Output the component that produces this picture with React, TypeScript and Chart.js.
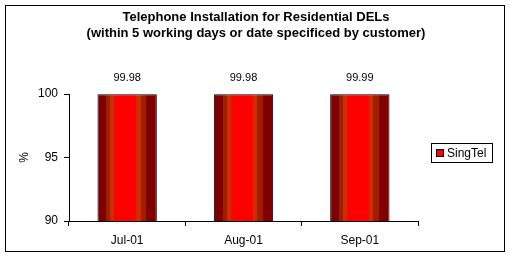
import React, { useEffect, useRef } from "react";
import { Chart, registerables } from "chart.js";

Chart.register(...registerables);

const categories: string[] = ["Jul-01", "Aug-01", "Sep-01"];
const singtelValues: number[] = [99.98, 99.98, 99.99];
const seriesName = "SingTel";
const titleLines: string[] = [
  "Telephone Installation for Residential DELs",
  "(within 5 working days or date specificed by customer)",
];
const yMin = 90;
const yMax = 100;
const yStep = 5;

const FONT = 'Arial, "Liberation Sans", sans-serif';
const BAR_PCT = 0.51;

const frameAndText = {
  id: "frameAndText",
  beforeDraw(chart: any) {
    const ctx = chart.ctx;
    ctx.save();
    ctx.fillStyle = "#ffffff";
    ctx.fillRect(0, 0, chart.width, chart.height);
    ctx.strokeStyle = "#000000";
    ctx.lineWidth = 1;
    ctx.strokeRect(5.5, 5.5, 499, 246);
    ctx.restore();
  },
  afterDraw(chart: any) {
    const ctx = chart.ctx;
    ctx.save();
    // title
    ctx.fillStyle = "#000";
    ctx.font = `bold 13px ${FONT}`;
    ctx.textAlign = "center";
    ctx.textBaseline = "middle";
    titleLines.forEach((t, i) => ctx.fillText(t, 256, 17.5 + i * 16));
    // legend
    ctx.strokeStyle = "#000";
    ctx.lineWidth = 1;
    ctx.strokeRect(431.5, 143.5, 61, 19);
    ctx.fillStyle = "#ff0000";
    ctx.fillRect(436.5, 149.5, 7, 7);
    ctx.strokeRect(436.5, 149.5, 7, 7);
    ctx.fillStyle = "#000";
    ctx.font = `12px ${FONT}`;
    ctx.textAlign = "left";
    ctx.fillText(chart.data.datasets[0].label, 447, 153.5);
    ctx.restore();
  },
  afterDatasetsDraw(chart: any) {
    const ctx = chart.ctx;
    const meta = chart.getDatasetMeta(0);
    ctx.save();
    ctx.fillStyle = "#000";
    ctx.font = `11px ${FONT}`;
    ctx.textAlign = "center";
    ctx.textBaseline = "middle";
    meta.data.forEach((bar: any, i: number) => {
      const v = chart.data.datasets[0].data[i] as number;
      ctx.fillText(v.toFixed(2), bar.x, bar.y - 16);
    });
    ctx.restore();
  },
};

function barGradient(c: any) {
  const chart = c.chart;
  const area = chart.chartArea;
  if (!area || c.dataIndex === undefined) return "#ff0000";
  const xs = chart.scales.x;
  const cx = xs.getPixelForValue(c.dataIndex);
  const w = ((area.right - area.left) / categories.length) * BAR_PCT;
  const g = chart.ctx.createLinearGradient(cx - w / 2, 0, cx + w / 2, 0);
  const bands: [number, number, string][] = [
    [0, 0.15, "#800000"],
    [0.15, 0.215, "#a01e00"],
    [0.215, 0.285, "#cc2e00"],
    [0.285, 0.655, "#ff0000"],
    [0.655, 0.725, "#cc2e00"],
    [0.725, 0.825, "#a01e00"],
    [0.825, 1, "#800000"],
  ];
  bands.forEach(([a, b, col]) => {
    g.addColorStop(a, col);
    g.addColorStop(b, col);
  });
  return g;
}

export default function App() {
  const ref = useRef<HTMLCanvasElement>(null);
  useEffect(() => {
    if (!ref.current) return;
    const chart = new Chart(ref.current, {
      type: "bar",
      data: {
        labels: categories,
        datasets: [
          {
            label: seriesName,
            data: singtelValues,
            backgroundColor: barGradient as any,
            borderColor: "#000000",
            borderWidth: 1,
            categoryPercentage: 1,
            barPercentage: BAR_PCT,
          },
        ],
      },
      options: {
        responsive: false,
        animation: false,
        devicePixelRatio: 1,
        layout: { padding: { top: 94, left: 14, right: 92, bottom: 5 } },
        plugins: {
          legend: { display: false },
          title: { display: false },
          tooltip: { enabled: false },
        },
        scales: {
          x: {
            type: "category",
            grid: {
              display: true,
              drawOnChartArea: false,
              drawTicks: true,
              tickLength: 5,
              color: "#000",
              offset: true,
            },
            border: { color: "#000", width: 1 },
            ticks: { color: "#000", font: { family: FONT, size: 12 }, padding: 7, maxRotation: 0 },
            afterFit: (s: any) => {
              s.height = 30;
            },
          },
          y: {
            min: yMin,
            max: yMax,
            grid: { drawOnChartArea: false, drawTicks: true, tickLength: 5, color: "#000" },
            border: { color: "#000", width: 1 },
            ticks: { stepSize: yStep, color: "#000", font: { family: FONT, size: 12 }, padding: 6 },
            title: {
              display: true,
              text: "%",
              color: "#000",
              font: { family: FONT, size: 12 },
              padding: { top: 3, bottom: 0 },
            },
            afterFit: (s: any) => {
              s.width = 55;
            },
          },
        },
      },
      plugins: [frameAndText],
    });
    return () => chart.destroy();
  }, []);
  return (
    <div style={{ position: "absolute", left: 0, top: 0, width: 510, height: 256 }}>
      <canvas ref={ref} width={510} height={256} style={{ display: "block" }} />
    </div>
  );
}
